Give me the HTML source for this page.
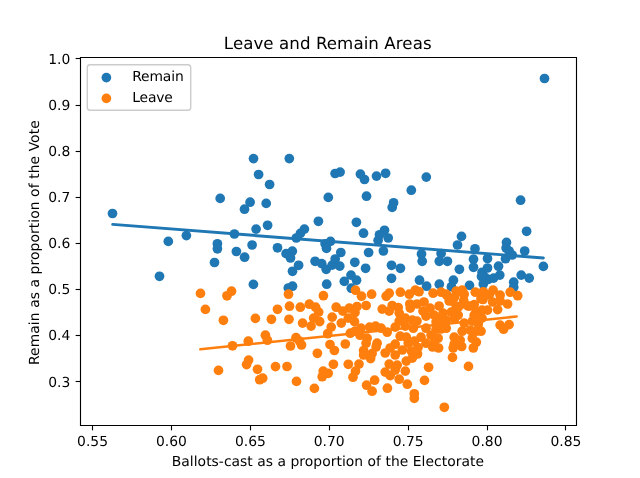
<!DOCTYPE html>
<html><head><meta charset="utf-8"><title>Leave and Remain Areas</title>
<style>html,body{margin:0;padding:0;background:#fff;width:640px;height:478px;overflow:hidden}</style>
</head><body>
<svg width="640" height="478" viewBox="0 0 640 478" style="display:block">
<rect x="0" y="0" width="640" height="478" fill="#fff"/>
<clipPath id="c"><rect x="80" y="57.36" width="496" height="368.06"/></clipPath>
<g clip-path="url(#c)">
<circle cx="544.50" cy="78.50" r="4.86" fill="#1f77b4"/>
<circle cx="112.50" cy="213.50" r="4.86" fill="#1f77b4"/>
<circle cx="168.30" cy="241.40" r="4.86" fill="#1f77b4"/>
<circle cx="186.40" cy="235.60" r="4.86" fill="#1f77b4"/>
<circle cx="220.20" cy="198.40" r="4.86" fill="#1f77b4"/>
<circle cx="217.40" cy="243.80" r="4.86" fill="#1f77b4"/>
<circle cx="217.40" cy="248.80" r="4.86" fill="#1f77b4"/>
<circle cx="253.50" cy="158.60" r="4.86" fill="#1f77b4"/>
<circle cx="289.30" cy="158.60" r="4.86" fill="#1f77b4"/>
<circle cx="258.60" cy="174.50" r="4.86" fill="#1f77b4"/>
<circle cx="269.60" cy="184.50" r="4.86" fill="#1f77b4"/>
<circle cx="335.10" cy="173.50" r="4.86" fill="#1f77b4"/>
<circle cx="340.10" cy="172.10" r="4.86" fill="#1f77b4"/>
<circle cx="328.30" cy="197.40" r="4.86" fill="#1f77b4"/>
<circle cx="250.10" cy="202.20" r="4.86" fill="#1f77b4"/>
<circle cx="244.50" cy="209.20" r="4.86" fill="#1f77b4"/>
<circle cx="266.20" cy="203.40" r="4.86" fill="#1f77b4"/>
<circle cx="318.40" cy="221.30" r="4.86" fill="#1f77b4"/>
<circle cx="267.60" cy="225.30" r="4.86" fill="#1f77b4"/>
<circle cx="256.10" cy="229.10" r="4.86" fill="#1f77b4"/>
<circle cx="234.40" cy="234.00" r="4.86" fill="#1f77b4"/>
<circle cx="304.40" cy="229.10" r="4.86" fill="#1f77b4"/>
<circle cx="300.40" cy="233.40" r="4.86" fill="#1f77b4"/>
<circle cx="296.30" cy="238.00" r="4.86" fill="#1f77b4"/>
<circle cx="252.10" cy="245.00" r="4.86" fill="#1f77b4"/>
<circle cx="330.50" cy="241.40" r="4.86" fill="#1f77b4"/>
<circle cx="325.10" cy="243.80" r="4.86" fill="#1f77b4"/>
<circle cx="326.50" cy="248.40" r="4.86" fill="#1f77b4"/>
<circle cx="277.50" cy="247.80" r="4.86" fill="#1f77b4"/>
<circle cx="360.40" cy="174.10" r="4.86" fill="#1f77b4"/>
<circle cx="364.50" cy="179.50" r="4.86" fill="#1f77b4"/>
<circle cx="376.50" cy="176.10" r="4.86" fill="#1f77b4"/>
<circle cx="385.60" cy="173.30" r="4.86" fill="#1f77b4"/>
<circle cx="426.30" cy="177.10" r="4.86" fill="#1f77b4"/>
<circle cx="411.30" cy="190.20" r="4.86" fill="#1f77b4"/>
<circle cx="366.50" cy="196.20" r="4.86" fill="#1f77b4"/>
<circle cx="393.60" cy="202.80" r="4.86" fill="#1f77b4"/>
<circle cx="392.20" cy="207.40" r="4.86" fill="#1f77b4"/>
<circle cx="356.40" cy="222.30" r="4.86" fill="#1f77b4"/>
<circle cx="363.50" cy="233.20" r="4.86" fill="#1f77b4"/>
<circle cx="384.50" cy="230.30" r="4.86" fill="#1f77b4"/>
<circle cx="379.50" cy="234.80" r="4.86" fill="#1f77b4"/>
<circle cx="388.20" cy="238.00" r="4.86" fill="#1f77b4"/>
<circle cx="378.10" cy="240.40" r="4.86" fill="#1f77b4"/>
<circle cx="461.50" cy="236.40" r="4.86" fill="#1f77b4"/>
<circle cx="457.50" cy="245.00" r="4.86" fill="#1f77b4"/>
<circle cx="475.00" cy="248.80" r="4.86" fill="#1f77b4"/>
<circle cx="520.60" cy="200.20" r="4.86" fill="#1f77b4"/>
<circle cx="526.60" cy="231.30" r="4.86" fill="#1f77b4"/>
<circle cx="506.50" cy="242.40" r="4.86" fill="#1f77b4"/>
<circle cx="506.10" cy="248.00" r="4.86" fill="#1f77b4"/>
<circle cx="214.50" cy="262.50" r="4.86" fill="#1f77b4"/>
<circle cx="159.50" cy="276.30" r="4.86" fill="#1f77b4"/>
<circle cx="236.40" cy="251.50" r="4.86" fill="#1f77b4"/>
<circle cx="244.60" cy="257.20" r="4.86" fill="#1f77b4"/>
<circle cx="253.40" cy="284.40" r="4.86" fill="#1f77b4"/>
<circle cx="286.10" cy="253.60" r="4.86" fill="#1f77b4"/>
<circle cx="292.30" cy="251.20" r="4.86" fill="#1f77b4"/>
<circle cx="290.50" cy="258.00" r="4.86" fill="#1f77b4"/>
<circle cx="298.60" cy="265.30" r="4.86" fill="#1f77b4"/>
<circle cx="292.50" cy="271.30" r="4.86" fill="#1f77b4"/>
<circle cx="292.50" cy="286.20" r="4.86" fill="#1f77b4"/>
<circle cx="340.80" cy="252.50" r="4.86" fill="#1f77b4"/>
<circle cx="315.10" cy="261.30" r="4.86" fill="#1f77b4"/>
<circle cx="321.70" cy="263.60" r="4.86" fill="#1f77b4"/>
<circle cx="326.20" cy="269.30" r="4.86" fill="#1f77b4"/>
<circle cx="332.20" cy="265.10" r="4.86" fill="#1f77b4"/>
<circle cx="335.20" cy="259.00" r="4.86" fill="#1f77b4"/>
<circle cx="339.80" cy="266.10" r="4.86" fill="#1f77b4"/>
<circle cx="326.70" cy="284.20" r="4.86" fill="#1f77b4"/>
<circle cx="344.30" cy="281.40" r="4.86" fill="#1f77b4"/>
<circle cx="351.00" cy="275.10" r="4.86" fill="#1f77b4"/>
<circle cx="351.30" cy="288.20" r="4.86" fill="#1f77b4"/>
<circle cx="368.60" cy="252.50" r="4.86" fill="#1f77b4"/>
<circle cx="383.40" cy="251.00" r="4.86" fill="#1f77b4"/>
<circle cx="354.80" cy="262.30" r="4.86" fill="#1f77b4"/>
<circle cx="365.60" cy="268.30" r="4.86" fill="#1f77b4"/>
<circle cx="356.50" cy="280.20" r="4.86" fill="#1f77b4"/>
<circle cx="391.50" cy="265.30" r="4.86" fill="#1f77b4"/>
<circle cx="400.40" cy="268.30" r="4.86" fill="#1f77b4"/>
<circle cx="391.50" cy="278.30" r="4.86" fill="#1f77b4"/>
<circle cx="421.50" cy="254.00" r="4.86" fill="#1f77b4"/>
<circle cx="422.20" cy="261.30" r="4.86" fill="#1f77b4"/>
<circle cx="441.10" cy="253.50" r="4.86" fill="#1f77b4"/>
<circle cx="439.30" cy="261.30" r="4.86" fill="#1f77b4"/>
<circle cx="447.40" cy="261.30" r="4.86" fill="#1f77b4"/>
<circle cx="459.40" cy="269.30" r="4.86" fill="#1f77b4"/>
<circle cx="473.50" cy="259.20" r="4.86" fill="#1f77b4"/>
<circle cx="473.50" cy="267.30" r="4.86" fill="#1f77b4"/>
<circle cx="419.50" cy="280.20" r="4.86" fill="#1f77b4"/>
<circle cx="426.60" cy="286.20" r="4.86" fill="#1f77b4"/>
<circle cx="439.30" cy="284.20" r="4.86" fill="#1f77b4"/>
<circle cx="453.40" cy="280.20" r="4.86" fill="#1f77b4"/>
<circle cx="451.40" cy="286.70" r="4.86" fill="#1f77b4"/>
<circle cx="469.50" cy="285.40" r="4.86" fill="#1f77b4"/>
<circle cx="487.50" cy="258.50" r="4.86" fill="#1f77b4"/>
<circle cx="505.50" cy="258.70" r="4.86" fill="#1f77b4"/>
<circle cx="509.10" cy="251.00" r="4.86" fill="#1f77b4"/>
<circle cx="512.20" cy="255.00" r="4.86" fill="#1f77b4"/>
<circle cx="524.70" cy="251.00" r="4.86" fill="#1f77b4"/>
<circle cx="498.50" cy="266.20" r="4.86" fill="#1f77b4"/>
<circle cx="487.50" cy="268.00" r="4.86" fill="#1f77b4"/>
<circle cx="482.10" cy="272.30" r="4.86" fill="#1f77b4"/>
<circle cx="484.60" cy="277.00" r="4.86" fill="#1f77b4"/>
<circle cx="488.40" cy="279.40" r="4.86" fill="#1f77b4"/>
<circle cx="493.60" cy="278.10" r="4.86" fill="#1f77b4"/>
<circle cx="499.80" cy="275.10" r="4.86" fill="#1f77b4"/>
<circle cx="483.30" cy="284.00" r="4.86" fill="#1f77b4"/>
<circle cx="521.20" cy="275.10" r="4.86" fill="#1f77b4"/>
<circle cx="529.20" cy="278.10" r="4.86" fill="#1f77b4"/>
<circle cx="513.70" cy="282.20" r="4.86" fill="#1f77b4"/>
<circle cx="513.70" cy="287.20" r="4.86" fill="#1f77b4"/>
<circle cx="543.40" cy="266.40" r="4.86" fill="#1f77b4"/>
<circle cx="288.30" cy="288.00" r="4.86" fill="#1f77b4"/>
<circle cx="481.50" cy="276.50" r="4.86" fill="#1f77b4"/>
<circle cx="200.50" cy="293.40" r="4.86" fill="#ff7f0e"/>
<circle cx="205.40" cy="309.40" r="4.86" fill="#ff7f0e"/>
<circle cx="223.40" cy="320.30" r="4.86" fill="#ff7f0e"/>
<circle cx="231.50" cy="291.20" r="4.86" fill="#ff7f0e"/>
<circle cx="227.00" cy="295.80" r="4.86" fill="#ff7f0e"/>
<circle cx="288.50" cy="294.20" r="4.86" fill="#ff7f0e"/>
<circle cx="323.40" cy="295.70" r="4.86" fill="#ff7f0e"/>
<circle cx="355.50" cy="290.20" r="4.86" fill="#ff7f0e"/>
<circle cx="361.50" cy="296.20" r="4.86" fill="#ff7f0e"/>
<circle cx="371.60" cy="294.20" r="4.86" fill="#ff7f0e"/>
<circle cx="389.20" cy="293.20" r="4.86" fill="#ff7f0e"/>
<circle cx="386.20" cy="296.20" r="4.86" fill="#ff7f0e"/>
<circle cx="400.40" cy="292.20" r="4.86" fill="#ff7f0e"/>
<circle cx="409.30" cy="294.20" r="4.86" fill="#ff7f0e"/>
<circle cx="415.30" cy="290.20" r="4.86" fill="#ff7f0e"/>
<circle cx="419.00" cy="291.70" r="4.86" fill="#ff7f0e"/>
<circle cx="433.10" cy="293.20" r="4.86" fill="#ff7f0e"/>
<circle cx="441.10" cy="292.20" r="4.86" fill="#ff7f0e"/>
<circle cx="446.20" cy="294.20" r="4.86" fill="#ff7f0e"/>
<circle cx="456.20" cy="291.20" r="4.86" fill="#ff7f0e"/>
<circle cx="462.20" cy="290.20" r="4.86" fill="#ff7f0e"/>
<circle cx="464.20" cy="294.20" r="4.86" fill="#ff7f0e"/>
<circle cx="475.30" cy="292.20" r="4.86" fill="#ff7f0e"/>
<circle cx="493.10" cy="290.20" r="4.86" fill="#ff7f0e"/>
<circle cx="484.00" cy="293.20" r="4.86" fill="#ff7f0e"/>
<circle cx="500.10" cy="295.20" r="4.86" fill="#ff7f0e"/>
<circle cx="510.20" cy="292.20" r="4.86" fill="#ff7f0e"/>
<circle cx="517.70" cy="295.70" r="4.86" fill="#ff7f0e"/>
<circle cx="255.40" cy="318.40" r="4.86" fill="#ff7f0e"/>
<circle cx="271.40" cy="319.30" r="4.86" fill="#ff7f0e"/>
<circle cx="277.50" cy="309.30" r="4.86" fill="#ff7f0e"/>
<circle cx="265.40" cy="335.20" r="4.86" fill="#ff7f0e"/>
<circle cx="267.40" cy="340.20" r="4.86" fill="#ff7f0e"/>
<circle cx="248.30" cy="341.20" r="4.86" fill="#ff7f0e"/>
<circle cx="232.50" cy="345.80" r="4.86" fill="#ff7f0e"/>
<circle cx="289.50" cy="306.20" r="4.86" fill="#ff7f0e"/>
<circle cx="289.00" cy="319.30" r="4.86" fill="#ff7f0e"/>
<circle cx="300.30" cy="307.20" r="4.86" fill="#ff7f0e"/>
<circle cx="309.30" cy="304.20" r="4.86" fill="#ff7f0e"/>
<circle cx="315.60" cy="307.20" r="4.86" fill="#ff7f0e"/>
<circle cx="318.70" cy="312.10" r="4.86" fill="#ff7f0e"/>
<circle cx="313.60" cy="318.10" r="4.86" fill="#ff7f0e"/>
<circle cx="319.70" cy="321.60" r="4.86" fill="#ff7f0e"/>
<circle cx="302.60" cy="323.10" r="4.86" fill="#ff7f0e"/>
<circle cx="311.10" cy="326.10" r="4.86" fill="#ff7f0e"/>
<circle cx="336.20" cy="307.20" r="4.86" fill="#ff7f0e"/>
<circle cx="342.80" cy="311.10" r="4.86" fill="#ff7f0e"/>
<circle cx="349.30" cy="308.10" r="4.86" fill="#ff7f0e"/>
<circle cx="332.20" cy="317.10" r="4.86" fill="#ff7f0e"/>
<circle cx="341.30" cy="323.10" r="4.86" fill="#ff7f0e"/>
<circle cx="348.30" cy="318.10" r="4.86" fill="#ff7f0e"/>
<circle cx="331.20" cy="327.10" r="4.86" fill="#ff7f0e"/>
<circle cx="327.70" cy="333.70" r="4.86" fill="#ff7f0e"/>
<circle cx="296.00" cy="337.70" r="4.86" fill="#ff7f0e"/>
<circle cx="301.50" cy="345.00" r="4.86" fill="#ff7f0e"/>
<circle cx="290.50" cy="346.00" r="4.86" fill="#ff7f0e"/>
<circle cx="330.00" cy="344.50" r="4.86" fill="#ff7f0e"/>
<circle cx="345.30" cy="344.00" r="4.86" fill="#ff7f0e"/>
<circle cx="350.30" cy="333.20" r="4.86" fill="#ff7f0e"/>
<circle cx="366.10" cy="305.50" r="4.86" fill="#ff7f0e"/>
<circle cx="357.00" cy="306.50" r="4.86" fill="#ff7f0e"/>
<circle cx="355.00" cy="312.60" r="4.86" fill="#ff7f0e"/>
<circle cx="354.50" cy="321.60" r="4.86" fill="#ff7f0e"/>
<circle cx="382.20" cy="309.10" r="4.86" fill="#ff7f0e"/>
<circle cx="389.20" cy="311.10" r="4.86" fill="#ff7f0e"/>
<circle cx="392.20" cy="305.50" r="4.86" fill="#ff7f0e"/>
<circle cx="398.20" cy="307.50" r="4.86" fill="#ff7f0e"/>
<circle cx="399.20" cy="313.10" r="4.86" fill="#ff7f0e"/>
<circle cx="409.80" cy="304.00" r="4.86" fill="#ff7f0e"/>
<circle cx="410.30" cy="308.10" r="4.86" fill="#ff7f0e"/>
<circle cx="405.30" cy="318.10" r="4.86" fill="#ff7f0e"/>
<circle cx="399.20" cy="321.10" r="4.86" fill="#ff7f0e"/>
<circle cx="412.30" cy="320.10" r="4.86" fill="#ff7f0e"/>
<circle cx="395.20" cy="327.10" r="4.86" fill="#ff7f0e"/>
<circle cx="405.30" cy="326.10" r="4.86" fill="#ff7f0e"/>
<circle cx="413.30" cy="328.20" r="4.86" fill="#ff7f0e"/>
<circle cx="361.00" cy="328.20" r="4.86" fill="#ff7f0e"/>
<circle cx="369.60" cy="327.10" r="4.86" fill="#ff7f0e"/>
<circle cx="375.60" cy="326.10" r="4.86" fill="#ff7f0e"/>
<circle cx="381.10" cy="328.20" r="4.86" fill="#ff7f0e"/>
<circle cx="387.20" cy="332.20" r="4.86" fill="#ff7f0e"/>
<circle cx="355.00" cy="331.20" r="4.86" fill="#ff7f0e"/>
<circle cx="360.00" cy="335.20" r="4.86" fill="#ff7f0e"/>
<circle cx="367.10" cy="338.20" r="4.86" fill="#ff7f0e"/>
<circle cx="366.10" cy="343.20" r="4.86" fill="#ff7f0e"/>
<circle cx="377.10" cy="343.20" r="4.86" fill="#ff7f0e"/>
<circle cx="400.20" cy="336.20" r="4.86" fill="#ff7f0e"/>
<circle cx="406.30" cy="337.20" r="4.86" fill="#ff7f0e"/>
<circle cx="395.20" cy="344.20" r="4.86" fill="#ff7f0e"/>
<circle cx="408.30" cy="343.20" r="4.86" fill="#ff7f0e"/>
<circle cx="414.30" cy="341.20" r="4.86" fill="#ff7f0e"/>
<circle cx="424.00" cy="302.00" r="4.86" fill="#ff7f0e"/>
<circle cx="417.00" cy="304.00" r="4.86" fill="#ff7f0e"/>
<circle cx="423.00" cy="311.10" r="4.86" fill="#ff7f0e"/>
<circle cx="430.10" cy="308.10" r="4.86" fill="#ff7f0e"/>
<circle cx="439.10" cy="306.00" r="4.86" fill="#ff7f0e"/>
<circle cx="443.10" cy="313.10" r="4.86" fill="#ff7f0e"/>
<circle cx="434.10" cy="315.10" r="4.86" fill="#ff7f0e"/>
<circle cx="417.00" cy="321.10" r="4.86" fill="#ff7f0e"/>
<circle cx="426.00" cy="316.10" r="4.86" fill="#ff7f0e"/>
<circle cx="436.10" cy="322.10" r="4.86" fill="#ff7f0e"/>
<circle cx="445.10" cy="322.10" r="4.86" fill="#ff7f0e"/>
<circle cx="426.00" cy="328.20" r="4.86" fill="#ff7f0e"/>
<circle cx="436.10" cy="329.20" r="4.86" fill="#ff7f0e"/>
<circle cx="446.20" cy="328.20" r="4.86" fill="#ff7f0e"/>
<circle cx="421.00" cy="337.20" r="4.86" fill="#ff7f0e"/>
<circle cx="431.10" cy="335.20" r="4.86" fill="#ff7f0e"/>
<circle cx="438.10" cy="338.20" r="4.86" fill="#ff7f0e"/>
<circle cx="426.00" cy="343.20" r="4.86" fill="#ff7f0e"/>
<circle cx="434.10" cy="343.20" r="4.86" fill="#ff7f0e"/>
<circle cx="449.20" cy="301.00" r="4.86" fill="#ff7f0e"/>
<circle cx="456.20" cy="306.00" r="4.86" fill="#ff7f0e"/>
<circle cx="451.20" cy="312.10" r="4.86" fill="#ff7f0e"/>
<circle cx="458.20" cy="315.10" r="4.86" fill="#ff7f0e"/>
<circle cx="464.20" cy="304.00" r="4.86" fill="#ff7f0e"/>
<circle cx="471.30" cy="306.00" r="4.86" fill="#ff7f0e"/>
<circle cx="476.30" cy="312.10" r="4.86" fill="#ff7f0e"/>
<circle cx="472.30" cy="321.10" r="4.86" fill="#ff7f0e"/>
<circle cx="464.20" cy="323.10" r="4.86" fill="#ff7f0e"/>
<circle cx="478.30" cy="324.10" r="4.86" fill="#ff7f0e"/>
<circle cx="462.20" cy="331.20" r="4.86" fill="#ff7f0e"/>
<circle cx="470.30" cy="330.20" r="4.86" fill="#ff7f0e"/>
<circle cx="476.30" cy="331.20" r="4.86" fill="#ff7f0e"/>
<circle cx="454.20" cy="337.20" r="4.86" fill="#ff7f0e"/>
<circle cx="460.20" cy="340.20" r="4.86" fill="#ff7f0e"/>
<circle cx="472.30" cy="338.20" r="4.86" fill="#ff7f0e"/>
<circle cx="476.30" cy="342.20" r="4.86" fill="#ff7f0e"/>
<circle cx="454.20" cy="344.20" r="4.86" fill="#ff7f0e"/>
<circle cx="446.20" cy="320.10" r="4.86" fill="#ff7f0e"/>
<circle cx="483.00" cy="299.50" r="4.86" fill="#ff7f0e"/>
<circle cx="492.60" cy="302.00" r="4.86" fill="#ff7f0e"/>
<circle cx="500.10" cy="301.00" r="4.86" fill="#ff7f0e"/>
<circle cx="507.60" cy="304.00" r="4.86" fill="#ff7f0e"/>
<circle cx="497.60" cy="309.60" r="4.86" fill="#ff7f0e"/>
<circle cx="487.50" cy="310.10" r="4.86" fill="#ff7f0e"/>
<circle cx="482.00" cy="310.10" r="4.86" fill="#ff7f0e"/>
<circle cx="482.00" cy="318.10" r="4.86" fill="#ff7f0e"/>
<circle cx="500.10" cy="325.10" r="4.86" fill="#ff7f0e"/>
<circle cx="509.10" cy="324.60" r="4.86" fill="#ff7f0e"/>
<circle cx="503.60" cy="329.20" r="4.86" fill="#ff7f0e"/>
<circle cx="481.00" cy="331.20" r="4.86" fill="#ff7f0e"/>
<circle cx="248.60" cy="360.10" r="4.86" fill="#ff7f0e"/>
<circle cx="246.60" cy="364.60" r="4.86" fill="#ff7f0e"/>
<circle cx="257.50" cy="369.30" r="4.86" fill="#ff7f0e"/>
<circle cx="259.70" cy="379.70" r="4.86" fill="#ff7f0e"/>
<circle cx="262.70" cy="378.20" r="4.86" fill="#ff7f0e"/>
<circle cx="275.50" cy="366.60" r="4.86" fill="#ff7f0e"/>
<circle cx="287.00" cy="366.50" r="4.86" fill="#ff7f0e"/>
<circle cx="218.50" cy="370.40" r="4.86" fill="#ff7f0e"/>
<circle cx="317.40" cy="353.30" r="4.86" fill="#ff7f0e"/>
<circle cx="334.40" cy="350.50" r="4.86" fill="#ff7f0e"/>
<circle cx="333.40" cy="364.30" r="4.86" fill="#ff7f0e"/>
<circle cx="348.30" cy="364.30" r="4.86" fill="#ff7f0e"/>
<circle cx="323.20" cy="371.10" r="4.86" fill="#ff7f0e"/>
<circle cx="328.20" cy="373.30" r="4.86" fill="#ff7f0e"/>
<circle cx="322.20" cy="376.70" r="4.86" fill="#ff7f0e"/>
<circle cx="296.50" cy="381.40" r="4.86" fill="#ff7f0e"/>
<circle cx="314.40" cy="388.40" r="4.86" fill="#ff7f0e"/>
<circle cx="363.60" cy="350.50" r="4.86" fill="#ff7f0e"/>
<circle cx="363.60" cy="355.00" r="4.86" fill="#ff7f0e"/>
<circle cx="372.10" cy="353.50" r="4.86" fill="#ff7f0e"/>
<circle cx="370.60" cy="358.60" r="4.86" fill="#ff7f0e"/>
<circle cx="376.10" cy="347.00" r="4.86" fill="#ff7f0e"/>
<circle cx="385.20" cy="353.00" r="4.86" fill="#ff7f0e"/>
<circle cx="390.20" cy="348.00" r="4.86" fill="#ff7f0e"/>
<circle cx="395.20" cy="355.00" r="4.86" fill="#ff7f0e"/>
<circle cx="402.30" cy="350.00" r="4.86" fill="#ff7f0e"/>
<circle cx="411.30" cy="351.00" r="4.86" fill="#ff7f0e"/>
<circle cx="412.30" cy="358.10" r="4.86" fill="#ff7f0e"/>
<circle cx="406.30" cy="361.10" r="4.86" fill="#ff7f0e"/>
<circle cx="389.20" cy="364.10" r="4.86" fill="#ff7f0e"/>
<circle cx="397.20" cy="365.10" r="4.86" fill="#ff7f0e"/>
<circle cx="405.30" cy="371.10" r="4.86" fill="#ff7f0e"/>
<circle cx="385.20" cy="372.10" r="4.86" fill="#ff7f0e"/>
<circle cx="390.20" cy="375.60" r="4.86" fill="#ff7f0e"/>
<circle cx="395.20" cy="370.10" r="4.86" fill="#ff7f0e"/>
<circle cx="399.20" cy="379.20" r="4.86" fill="#ff7f0e"/>
<circle cx="407.30" cy="384.20" r="4.86" fill="#ff7f0e"/>
<circle cx="387.40" cy="388.20" r="4.86" fill="#ff7f0e"/>
<circle cx="359.00" cy="364.10" r="4.86" fill="#ff7f0e"/>
<circle cx="355.50" cy="371.10" r="4.86" fill="#ff7f0e"/>
<circle cx="353.00" cy="377.20" r="4.86" fill="#ff7f0e"/>
<circle cx="374.60" cy="380.20" r="4.86" fill="#ff7f0e"/>
<circle cx="366.60" cy="385.20" r="4.86" fill="#ff7f0e"/>
<circle cx="372.10" cy="391.20" r="4.86" fill="#ff7f0e"/>
<circle cx="414.30" cy="393.80" r="4.86" fill="#ff7f0e"/>
<circle cx="414.30" cy="398.30" r="4.86" fill="#ff7f0e"/>
<circle cx="444.30" cy="407.30" r="4.86" fill="#ff7f0e"/>
<circle cx="417.50" cy="354.00" r="4.86" fill="#ff7f0e"/>
<circle cx="418.00" cy="347.50" r="4.86" fill="#ff7f0e"/>
<circle cx="432.60" cy="347.00" r="4.86" fill="#ff7f0e"/>
<circle cx="438.60" cy="348.00" r="4.86" fill="#ff7f0e"/>
<circle cx="453.20" cy="348.00" r="4.86" fill="#ff7f0e"/>
<circle cx="461.70" cy="346.50" r="4.86" fill="#ff7f0e"/>
<circle cx="473.30" cy="348.00" r="4.86" fill="#ff7f0e"/>
<circle cx="452.50" cy="357.40" r="4.86" fill="#ff7f0e"/>
<circle cx="428.60" cy="367.30" r="4.86" fill="#ff7f0e"/>
<circle cx="468.50" cy="366.40" r="4.86" fill="#ff7f0e"/>
<circle cx="424.50" cy="380.40" r="4.86" fill="#ff7f0e"/>
<circle cx="454.60" cy="297.10" r="4.86" fill="#ff7f0e"/>
<circle cx="463.70" cy="300.80" r="4.86" fill="#ff7f0e"/>
<circle cx="458.40" cy="306.90" r="4.86" fill="#ff7f0e"/>
<circle cx="453.10" cy="312.10" r="4.86" fill="#ff7f0e"/>
<circle cx="468.20" cy="306.10" r="4.86" fill="#ff7f0e"/>
<circle cx="474.20" cy="304.60" r="4.86" fill="#ff7f0e"/>
<circle cx="477.20" cy="312.10" r="4.86" fill="#ff7f0e"/>
<circle cx="447.10" cy="295.60" r="4.86" fill="#ff7f0e"/>
<circle cx="460.60" cy="291.80" r="4.86" fill="#ff7f0e"/>
<circle cx="451.60" cy="300.80" r="4.86" fill="#ff7f0e"/>
<circle cx="474.20" cy="315.20" r="4.86" fill="#ff7f0e"/>
<circle cx="456.90" cy="315.20" r="4.86" fill="#ff7f0e"/>
<circle cx="483.30" cy="291.80" r="4.86" fill="#ff7f0e"/>
<circle cx="489.30" cy="294.80" r="4.86" fill="#ff7f0e"/>
<circle cx="481.00" cy="298.80" r="4.86" fill="#ff7f0e"/>
<circle cx="440.50" cy="318.50" r="4.86" fill="#ff7f0e"/>
<circle cx="441.00" cy="329.00" r="4.86" fill="#ff7f0e"/>
<circle cx="454.50" cy="319.00" r="4.86" fill="#ff7f0e"/>
<circle cx="299.50" cy="341.00" r="4.86" fill="#ff7f0e"/>
<path d="M112.70 224.40 L543.40 258.00" fill="none" stroke="#1f77b4" stroke-width="2.90" stroke-linecap="round"/>
<path d="M200.40 349.30 L516.60 316.50" fill="none" stroke="#ff7f0e" stroke-width="2.60" stroke-linecap="round"/>
</g>
<g style="will-change:transform">
<path d="M80.5 425.5 L80.5 57.5 M576.5 425.5 L576.5 57.5 M80.5 425.5 L576.5 425.5 M80.5 57.5 L576.5 57.5" fill="none" stroke="#000" stroke-width="1.111" stroke-linecap="square"/>
<path d="M92.50 425.5 L92.50 430.36" stroke="#000" stroke-width="1.111"/>
<text x="92.55" y="445.70" style="font-size:13.889px;font-family:'DejaVu Sans',sans-serif;text-rendering:geometricPrecision;text-anchor:middle">0.55</text>
<path d="M171.50 425.5 L171.50 430.36" stroke="#000" stroke-width="1.111"/>
<text x="171.45" y="445.70" style="font-size:13.889px;font-family:'DejaVu Sans',sans-serif;text-rendering:geometricPrecision;text-anchor:middle">0.60</text>
<path d="M250.50 425.5 L250.50 430.36" stroke="#000" stroke-width="1.111"/>
<text x="250.35" y="445.70" style="font-size:13.889px;font-family:'DejaVu Sans',sans-serif;text-rendering:geometricPrecision;text-anchor:middle">0.65</text>
<path d="M329.50 425.5 L329.50 430.36" stroke="#000" stroke-width="1.111"/>
<text x="329.25" y="445.70" style="font-size:13.889px;font-family:'DejaVu Sans',sans-serif;text-rendering:geometricPrecision;text-anchor:middle">0.70</text>
<path d="M408.50 425.5 L408.50 430.36" stroke="#000" stroke-width="1.111"/>
<text x="408.15" y="445.70" style="font-size:13.889px;font-family:'DejaVu Sans',sans-serif;text-rendering:geometricPrecision;text-anchor:middle">0.75</text>
<path d="M487.50 425.5 L487.50 430.36" stroke="#000" stroke-width="1.111"/>
<text x="487.05" y="445.70" style="font-size:13.889px;font-family:'DejaVu Sans',sans-serif;text-rendering:geometricPrecision;text-anchor:middle">0.80</text>
<path d="M565.50 425.5 L565.50 430.36" stroke="#000" stroke-width="1.111"/>
<text x="565.95" y="445.70" style="font-size:13.889px;font-family:'DejaVu Sans',sans-serif;text-rendering:geometricPrecision;text-anchor:middle">0.85</text>
<text x="327.86" y="465.69" textLength="312.20" lengthAdjust="spacing" style="font-size:13.889px;font-family:'DejaVu Sans',sans-serif;text-rendering:geometricPrecision;text-anchor:middle">Ballots-cast as a proportion of the Electorate</text>
<path d="M80.5 58.50 L75.64 58.50" stroke="#000" stroke-width="1.111"/>
<text x="70.28" y="64.00" style="font-size:13.889px;font-family:'DejaVu Sans',sans-serif;text-rendering:geometricPrecision;text-anchor:end">1.0</text>
<path d="M80.5 105.50 L75.64 105.50" stroke="#000" stroke-width="1.111"/>
<text x="70.28" y="110.00" style="font-size:13.889px;font-family:'DejaVu Sans',sans-serif;text-rendering:geometricPrecision;text-anchor:end">0.9</text>
<path d="M80.5 151.50 L75.64 151.50" stroke="#000" stroke-width="1.111"/>
<text x="70.28" y="156.00" style="font-size:13.889px;font-family:'DejaVu Sans',sans-serif;text-rendering:geometricPrecision;text-anchor:end">0.8</text>
<path d="M80.5 197.50 L75.64 197.50" stroke="#000" stroke-width="1.111"/>
<text x="70.28" y="202.00" style="font-size:13.889px;font-family:'DejaVu Sans',sans-serif;text-rendering:geometricPrecision;text-anchor:end">0.7</text>
<path d="M80.5 243.50 L75.64 243.50" stroke="#000" stroke-width="1.111"/>
<text x="70.28" y="248.00" style="font-size:13.889px;font-family:'DejaVu Sans',sans-serif;text-rendering:geometricPrecision;text-anchor:end">0.6</text>
<path d="M80.5 289.50 L75.64 289.50" stroke="#000" stroke-width="1.111"/>
<text x="70.28" y="294.00" style="font-size:13.889px;font-family:'DejaVu Sans',sans-serif;text-rendering:geometricPrecision;text-anchor:end">0.5</text>
<path d="M80.5 335.50 L75.64 335.50" stroke="#000" stroke-width="1.111"/>
<text x="70.28" y="340.00" style="font-size:13.889px;font-family:'DejaVu Sans',sans-serif;text-rendering:geometricPrecision;text-anchor:end">0.4</text>
<path d="M80.5 381.50 L75.64 381.50" stroke="#000" stroke-width="1.111"/>
<text x="70.28" y="387.00" style="font-size:13.889px;font-family:'DejaVu Sans',sans-serif;text-rendering:geometricPrecision;text-anchor:end">0.3</text>
<text x="38.75" y="242.64" textLength="244.80" lengthAdjust="spacing" transform="rotate(-90 38.75 242.64)" style="font-size:13.889px;font-family:'DejaVu Sans',sans-serif;text-rendering:geometricPrecision;text-anchor:middle">Remain as a proportion of the Vote</text>
<text x="327.72" y="49.03" textLength="207.80" lengthAdjust="spacing" style="font-size:16.667px;font-family:'DejaVu Sans',sans-serif;text-rendering:geometricPrecision;text-anchor:middle">Leave and Remain Areas</text>
<rect x="87.31" y="64.69" width="103.40" height="45.61" rx="2.78" ry="2.78" fill="#fff" fill-opacity="0.8" stroke="#ccc" stroke-width="1.389"/>
<circle cx="106.39" cy="77.60" r="4.86" fill="#1f77b4"/>
<circle cx="106.39" cy="98.40" r="4.86" fill="#ff7f0e"/>
<text x="132.22" y="81.24" textLength="51.5" lengthAdjust="spacing" style="font-size:13.889px;font-family:'DejaVu Sans',sans-serif;text-rendering:geometricPrecision">Remain</text>
<text x="132.22" y="102.05" textLength="40.7" lengthAdjust="spacing" style="font-size:13.889px;font-family:'DejaVu Sans',sans-serif;text-rendering:geometricPrecision">Leave</text>
</g>
</svg>
</body></html>
